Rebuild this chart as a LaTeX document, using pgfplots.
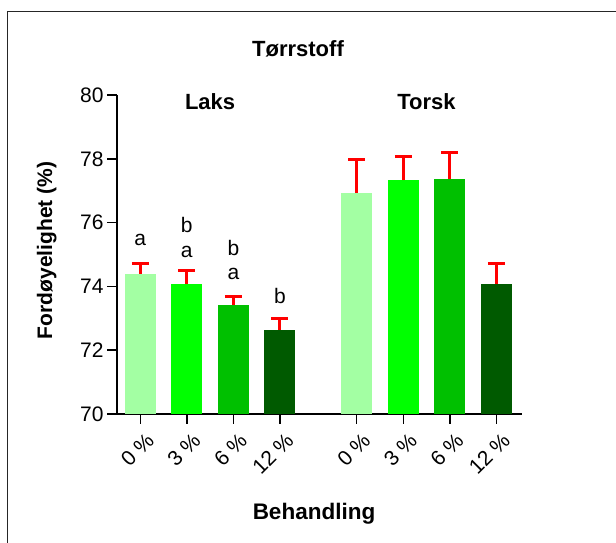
\documentclass[border=0pt]{standalone}
\usepackage{pgfplots}
\pgfplotsset{compat=1.18}
\usepackage{fontspec}
\setmainfont{Liberation Sans}
\definecolor{c1}{HTML}{A3FFA3}
\definecolor{c2}{HTML}{00FF00}
\definecolor{c3}{HTML}{00C000}
\definecolor{c4}{HTML}{005A00}
\begin{document}
\begin{tikzpicture}[x=1pt,y=1pt]
\useasboundingbox (0,0) rectangle (616,543);
\draw[line width=1.5pt, black!85] (7.5,0) -- (7.5,531.5) -- (616,531.5);
\node[anchor=base, font=\bfseries\fontsize{22}{24}\selectfont] at (298,486.5) {Tørrstoff};
\node[anchor=base, font=\bfseries\fontsize{22.5}{24}\selectfont] at (314,23) {Behandling};
\node[anchor=base, rotate=90, font=\bfseries\fontsize{21}{24}\selectfont] at (52,292.5) {Fordøyelighet (\%)};
\begin{axis}[
 at={(117pt,129pt)}, anchor=south west,
 scale only axis, width=405pt, height=319pt,
 xmin=-0.5, xmax=8.2, ymin=70, ymax=80,
 axis x line*=bottom, axis y line*=left,
 axis line style={line width=1.5pt},
 ytick={70,72,...,80},
 xtick={0,1,2,3,4.65,5.65,6.65,7.65},
 xticklabels={0 \%,3 \%,6 \%,12 \%,0 \%,3 \%,6 \%,12 \%},
 tick align=outside, major tick length=10pt,
 tick style={line width=1.5pt, black},
 xticklabel style={rotate=45, anchor=north east, xshift=1.5pt, yshift=-5pt, font=\fontsize{21}{23}\selectfont},
 yticklabel style={font=\fontsize{21}{23}\selectfont},
 /pgf/number format/assume math mode=true,
 ybar, bar width=31pt, bar shift=0pt,
 clip=false,
 error bars/y dir=plus, error bars/y explicit,
 error bars/error bar style={red, line width=3pt},
 error bars/error mark options={red, rotate=90, mark size=8.5pt, line width=3pt},
]
\addplot[fill=c1, draw=none] coordinates {(0,74.40) +- (0,0.33)};
\addplot[fill=c2, draw=none] coordinates {(1,74.08) +- (0,0.42)};
\addplot[fill=c3, draw=none] coordinates {(2,73.41) +- (0,0.28)};
\addplot[fill=c4, draw=none] coordinates {(3,72.64) +- (0,0.35)};
\addplot[fill=c1, draw=none] coordinates {(4.65,76.92) +- (0,1.05)};
\addplot[fill=c2, draw=none] coordinates {(5.65,77.32) +- (0,0.74)};
\addplot[fill=c3, draw=none] coordinates {(6.65,77.38) +- (0,0.83)};
\addplot[fill=c4, draw=none] coordinates {(7.65,74.08) +- (0,0.63)};
\begin{scope}[every node/.style={font=\fontsize{21}{22}\selectfont}]
\node at (axis cs:0,75.45) {a};
\node at (axis cs:1,75.92) {b};
\node at (axis cs:1,75.08) {a};
\node at (axis cs:2,75.20) {b};
\node at (axis cs:2,74.39) {a};
\node at (axis cs:3,73.70) {b};
\end{scope}
\node[anchor=base, font=\bfseries\fontsize{22}{24}\selectfont] at (axis cs:1.5,79.55) {Laks};
\node[anchor=base, font=\bfseries\fontsize{22}{24}\selectfont] at (axis cs:6.15,79.55) {Torsk};
\end{axis}
\end{tikzpicture}
\end{document}
